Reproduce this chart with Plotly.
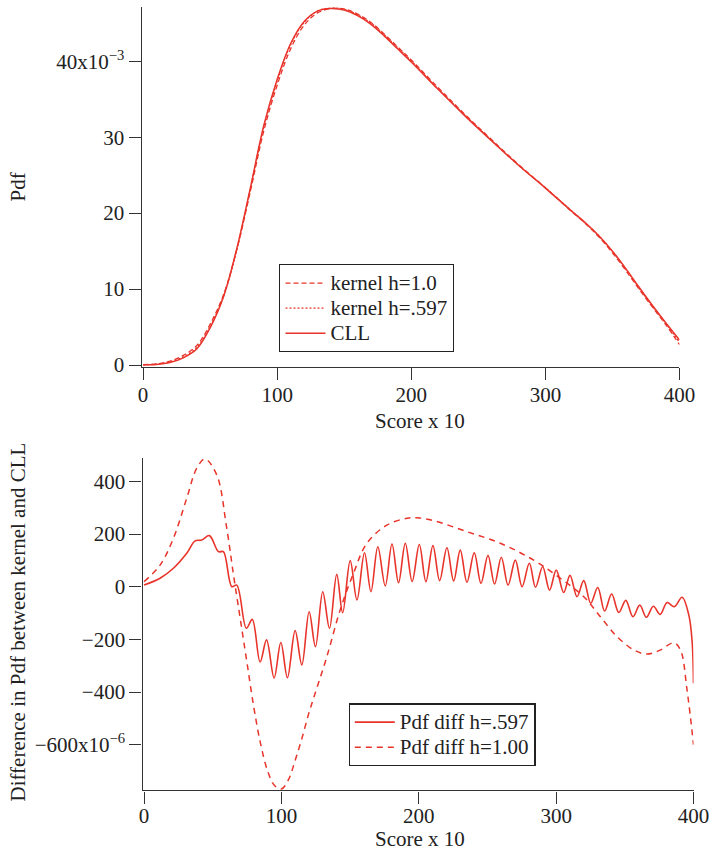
import plotly.graph_objects as go

# ---------------- data (top panel, pdf in units of 1e-3) ----------------
score_top = [0, 10, 20, 30, 40, 50, 60, 70, 80, 90, 100, 110, 120, 130, 140, 150, 160, 170,
             180, 190, 200, 220, 240, 260, 280, 300, 320, 330, 340, 350, 360, 370, 380, 390, 400]
cll_pdf = [0.02, 0.08, 0.33, 0.95, 2.1, 4.9, 9.0, 15.4, 23.3, 31.5, 37.6, 42.3, 45.2, 46.6,
           46.95, 46.75, 46.0, 44.85, 43.3, 41.6, 39.9, 36.3, 32.8, 29.5, 26.3, 23.3, 20.2,
           18.7, 17.0, 15.0, 12.7, 10.2, 7.8, 5.5, 3.3]
kernel_h10_pdf = [0.04, 0.15, 0.5, 1.27, 2.55, 5.36, 9.25, 15.27, 22.84, 30.8, 36.84, 41.62,
                  44.72, 46.36, 46.93, 46.88, 46.2, 45.09, 43.55, 41.86, 40.16, 36.54, 33.0,
                  29.65, 26.4, 23.34, 20.15, 18.6, 16.84, 14.78, 12.45, 9.95, 7.58, 5.27, 2.7]
kernel_h597_pdf = [0.03, 0.11, 0.40, 1.07, 2.27, 5.05, 9.05, 15.25, 23.15, 31.3, 37.4, 42.15,
                   45.1, 46.6, 47.0, 46.85, 46.1, 45.0, 43.45, 41.75, 40.05, 36.35, 32.9,
                   29.55, 26.3, 23.35, 20.2, 18.65, 17.0, 14.95, 12.6, 10.1, 7.7, 5.45, 2.95]

# ---------------- data (bottom panel, differences in units of 1e-6) ----------------
score_d10 = [0, 11.7, 21.4, 31.1, 38.4, 44.4, 53, 60, 65, 70, 75, 80, 85, 90, 95, 100, 105,
             110, 115, 120, 123.4, 133.1, 142.8, 152.5, 162.2, 176.8, 191.4, 198.7, 210.8,
             235.1, 259.4, 283.6, 303.1, 320.1, 332.2, 344.4, 356.5, 366.2, 376, 385.7,
             390.5, 395.3, 400]
diff_h10 = [19, 82, 184, 336, 450, 485, 424, 230, 50, -120, -290, -460, -600, -700, -755,
            -768, -735, -660, -575, -480, -424, -266, -88, 51, 165, 234, 260, 262, 251, 209,
            165, 101, 32, -38, -114, -190, -240, -256, -240, -213, -240, -392, -600]

score_d597 = [0, 11.7, 21.4, 31.1, 37.2, 42, 47.6, 54.2, 57.8, 63.9, 67.5, 74.5, 78.8, 84.5,
              89.2, 94.7, 99.6, 104.4, 110, 114.9, 120.2, 124.8, 130.1, 135, 140.3, 144.6,
              150.1, 155, 160.5, 165.2, 170.2, 175.6, 180.5, 185.3, 190.2, 195.2, 200.4,
              205.2, 210.3, 215.2, 220.5, 225.4, 230.2, 235.1, 240.4, 245.3, 250.4, 255.2,
              260.1, 265, 270.3, 275.2, 280.5, 285, 290.2, 295.2, 300.1, 305.5, 310.1, 315.2,
              320.1, 325.2, 330.3, 335.3, 340.4, 345.6, 350.7, 355.9, 360.9, 365.7, 370.8,
              375.7, 380.8, 386, 391.7, 396.6, 399, 400]
diff_h597 = [6, 32, 70, 127, 174, 177, 194, 133, 133, 0, 6, -158, -124, -286, -202, -347,
             -212, -346, -167, -297, -95, -228, -19, -158, 47, -99, 99, -50, 129, -19, 152, 3,
             162, 15, 165, 20, 160, 19, 156, 23, 148, 22, 139, 17, 129, 13, 119, 10, 112, 6,
             101, 0, 89, -2, 76, -13, 63, -22, 43, -38, 23, -63, -3, -92, -28, -98, -52, -114,
             -70, -116, -74, -105, -60, -76, -40, -108, -209, -367]

# ---------------- ticks / labels ----------------
top_x_ticks = [0, 100, 200, 300, 400]
top_y_tickvals = [0, 10, 20, 30, 40]
top_y_ticktext = ["0", "10", "20", "30", "40x10<sup>−3</sup>"]
bot_y_tickvals = [400, 200, 0, -200, -400, -600]
bot_y_ticktext = ["400", "200", "0", "−200", "−400", "−600x10<sup>−6</sup>"]
top_names = ["kernel h=1.0", "kernel h=.597", "CLL"]
bot_names = ["Pdf diff h=.597", "Pdf diff h=1.00"]

RED = "rgb(232,52,42)"
INK = "#222222"
FONT = "Liberation Serif"
FS = 21


def lg(name):
    return '<span style="font-size:%dpx">%s</span>' % (FS, name)


fig = go.Figure()

fig.add_trace(go.Scatter(x=score_top, y=kernel_h10_pdf, mode="lines", name=lg(top_names[0]),
                         line=dict(color=RED, width=1.3, dash="5px,3px", shape="spline"),
                         xaxis="x", yaxis="y", legend="legend"))
fig.add_trace(go.Scatter(x=score_top, y=kernel_h597_pdf, mode="lines", name=lg(top_names[1]),
                         line=dict(color=RED, width=1.3, dash="2px,2px", shape="spline"),
                         xaxis="x", yaxis="y", legend="legend"))
fig.add_trace(go.Scatter(x=score_top, y=cll_pdf, mode="lines", name=lg(top_names[2]),
                         line=dict(color=RED, width=1.5, shape="spline"),
                         xaxis="x", yaxis="y", legend="legend"))

fig.add_trace(go.Scatter(x=score_d597, y=diff_h597, mode="lines", name=lg(bot_names[0]),
                         line=dict(color=RED, width=1.6, shape="spline"),
                         xaxis="x2", yaxis="y2", legend="legend2"))
fig.add_trace(go.Scatter(x=score_d10, y=diff_h10, mode="lines", name=lg(bot_names[1]),
                         line=dict(color=RED, width=1.5, dash="6px,5px", shape="spline"),
                         xaxis="x2", yaxis="y2", legend="legend2"))

axis_common = dict(showline=True, linecolor="#333333", linewidth=1.3, ticks="outside",
                   ticklen=12, tickwidth=1.2, tickcolor="#333333", showgrid=False,
                   zeroline=False, automargin=False,
                   tickfont=dict(family=FONT, size=FS, color=INK))

legend_common = dict(xanchor="left", yanchor="top", bordercolor="#222222", borderwidth=1.2,
                     bgcolor="white", font=dict(family=FONT, size=17, color=INK),
                     tracegroupgap=0, itemwidth=40)

title_font = dict(family=FONT, size=FS, color=INK)

fig.update_layout(
    width=709, height=854,
    margin=dict(l=0, r=0, t=0, b=0, autoexpand=False),
    paper_bgcolor="white", plot_bgcolor="white",
    font=dict(family=FONT, size=FS, color=INK),
    xaxis=dict(domain=[0.19986, 0.95839], range=[-1, 400], anchor="y",
               tickvals=top_x_ticks, ticklabelstandoff=-3, ticklabeloverflow="allow",
               **axis_common),
    yaxis=dict(domain=[0.57026, 0.99145], range=[-0.26, 47.1], anchor="x",
               tickvals=top_y_tickvals, ticktext=top_y_ticktext, **axis_common),
    xaxis2=dict(domain=[0.20099, 0.97814], range=[-1.1, 400], anchor="y2",
                tickvals=top_x_ticks, ticklabelstandoff=-6, ticklabeloverflow="allow",
                **axis_common),
    yaxis2=dict(domain=[0.07436, 0.46370], range=[-774, 488.8], anchor="x2",
                tickvals=bot_y_tickvals, ticktext=bot_y_ticktext, **axis_common),
    legend=dict(x=279.3 / 709, y=1 - 264.3 / 854, **legend_common),
    legend2=dict(x=348.6 / 709, y=1 - 703.4 / 854, **legend_common),
    showlegend=True,
    annotations=[
        dict(text="Pdf", x=17.5 / 709, y=1 - 187 / 854, xref="paper", yref="paper",
             xanchor="center", yanchor="middle", textangle=-90, showarrow=False,
             font=title_font),
        dict(text="Score x 10", x=420 / 709, y=1 - 421 / 854, xref="paper", yref="paper",
             xanchor="center", yanchor="middle", showarrow=False, font=title_font),
        dict(text="Difference in Pdf between kernel and CLL", x=17 / 709, y=1 - 622.5 / 854,
             xref="paper", yref="paper", xanchor="center", yanchor="middle", textangle=-90,
             showarrow=False, font=title_font),
        dict(text="Score x 10", x=420 / 709, y=1 - 839 / 854, xref="paper", yref="paper",
             xanchor="center", yanchor="middle", showarrow=False, font=title_font),
    ],
)

fig.write_html("out.html", config={"displayModeBar": False},
               post_script="document.documentElement.style.margin='0';"
                           "document.body.style.margin='0';"
                           "document.body.style.overflow='hidden';")
